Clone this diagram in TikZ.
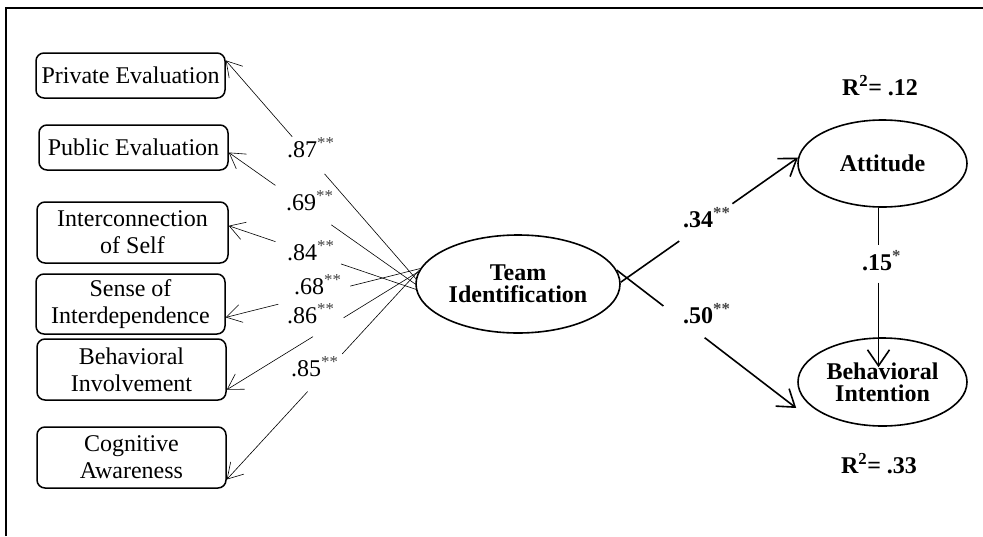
\documentclass[tikz,border=0pt]{standalone}
\usepackage{fontspec}
\setmainfont{Liberation Serif}
\usetikzlibrary{arrows.meta,calc,shapes.geometric}
\definecolor{sigcol}{HTML}{444444}
\newcommand\sigstars[1]{\textsuperscript{\textcolor{sigcol}{#1}}}

\begin{document}
\begin{tikzpicture}[x=1pt,y=-1pt,
  indicator/.style={draw, line width=1.5pt, rounded corners=8pt, align=center,
    font=\fontsize{24}{27}\selectfont, inner sep=0pt},
  latent/.style={draw, ellipse, line width=1.6pt, align=center,
    font=\fontsize{24}{22}\selectfont\bfseries, inner sep=0pt},
  loadline/.style={line width=0.6pt},
  loadarrow/.style={line width=0.6pt, -{Straight Barb[length=15pt,width=18pt]}},
  pathline/.style={line width=1.6pt},
  patharrow/.style={line width=1.6pt, -{Straight Barb[length=16pt,width=22pt]}},
  coef/.style={font=\fontsize{24}{27}\selectfont, anchor=west, inner sep=0pt},
  bcoef/.style={font=\fontsize{24}{27}\selectfont\bfseries, anchor=west, inner sep=0pt},
  rsq/.style={font=\fontsize{24}{27}\selectfont\bfseries, inner sep=0pt}]

\useasboundingbox (0,0) rectangle (983,536);

% frame
\draw[line width=2pt] (6,536) -- (6,8) -- (983,8);

% indicators
\node[indicator, minimum width=189pt, minimum height=45pt] (pe)  at (130.5,75.5) {Private Evaluation};
\node[indicator, minimum width=189pt, minimum height=45pt] (pub) at (133.5,147.5) {Public Evaluation};
\node[indicator, minimum width=191pt, minimum height=61pt] (ics) at (132.5,232.5) {Interconnection\\of Self};
\node[indicator, minimum width=189pt, minimum height=60pt] (soi) at (130.5,304) {Sense of\\Interdependence};
\node[indicator, minimum width=189pt, minimum height=61pt] (bin) at (131.5,369.5) {Behavioral\\Involvement};
\node[indicator, minimum width=189pt, minimum height=61pt] (cog) at (131.5,457.5) {Cognitive\\Awareness};

% latent variables
\node[latent, minimum width=204pt, minimum height=98pt] (ti)  at (518,284) {Team\\Identification};
\node[latent, minimum width=169pt, minimum height=87pt] (att) at (882.5,163.5) {Attitude};
\node[latent, minimum width=169pt, minimum height=88pt] (bi)  at (882.5,382) {Behavioral\\Intention};

% loadings (gap left for each coefficient)
\path (ti.177) -- coordinate[pos=0.48] (g1a) coordinate[pos=0.65] (g1b) (pe.9);
\draw[loadline] (ti.177) -- (g1a);
\draw[loadarrow] (g1b) -- (pe.9);

\path (ti.180) -- coordinate[pos=0.45] (g2a) coordinate[pos=0.75] (g2b) (pub.-3);
\draw[loadline] (ti.180) -- (g2a);
\draw[loadarrow] (g2b) -- (pub.-3);

\path (ti.183) -- coordinate[pos=0.40] (g3a) coordinate[pos=0.75] (g3b) (ics.4);
\draw[loadline] (ti.183) -- (g3a);
\draw[loadarrow] (g3b) -- (ics.4);

\path (ti.171) -- coordinate[pos=0.36] (g4a) coordinate[pos=0.73] (g4b) (soi.-8);
\draw[loadline] (ti.171) -- (g4a);
\draw[loadarrow] (g4b) -- (soi.-8);

\path (ti.173) -- coordinate[pos=0.39] (g5a) coordinate[pos=0.55] (g5b) (bin.-12);
\draw[loadline] (ti.173) -- (g5a);
\draw[loadarrow] (g5b) -- (bin.-12);

\path (ti.172) -- coordinate[pos=0.40] (g6a) coordinate[pos=0.58] (g6b) (cog.-13);
\draw[loadline] (ti.172) -- (g6a);
\draw[loadarrow] (g6b) -- (cog.-13);

\node[coef] (l1) at (287,148) {.87\sigstars{**}};
\node[coef] (l2) at (286,201) {.69\sigstars{**}};
\node[coef] (l3) at (287,251) {.84\sigstars{**}};
\node[coef] (l4) at (294,285) {.68\sigstars{**}};
\node[coef] (l5) at (287,314) {.86\sigstars{**}};
\node[coef] (l6) at (291,367) {.85\sigstars{**}};

% structural paths
\path (ti.1) -- coordinate[pos=0.33] (p1a) coordinate[pos=0.63] (p1b) (att.176);
\draw[pathline] (ti.1) -- (p1a);
\draw[patharrow] (p1b) -- (att.176);

\coordinate (bitip) at ($(bi.west)+(-1,26)$);
\path (ti.8) -- coordinate[pos=0.26] (p2a) coordinate[pos=0.49] (p2b) (bitip);
\draw[pathline] (ti.8) -- (p2a);
\draw[patharrow] (p2b) -- (bitip);

\coordinate (attbase) at ($(att.south)+(-4,0)$);
\coordinate (attbi) at ($(bi.north)+(-4,30)$);
\path (attbase) -- coordinate[pos=0.236] (p3a) coordinate[pos=0.47] (p3b) (attbi);
\draw[pathline] (attbase) -- (p3a);
\draw[patharrow] (p3b) -- (attbi);

\node[bcoef] (c1) at (683,218) {.34\sigstars{**}};
\node[bcoef] (c2) at (683,314) {.50\sigstars{**}};
\node[bcoef] (c3) at (862,261) {.15\sigstars{*}};

% explained variance
\node[rsq] (r1) at (880,86) {R\textsuperscript{2}= .12};
\node[rsq] (r2) at (879,464) {R\textsuperscript{2}= .33};

\end{tikzpicture}
\end{document}
